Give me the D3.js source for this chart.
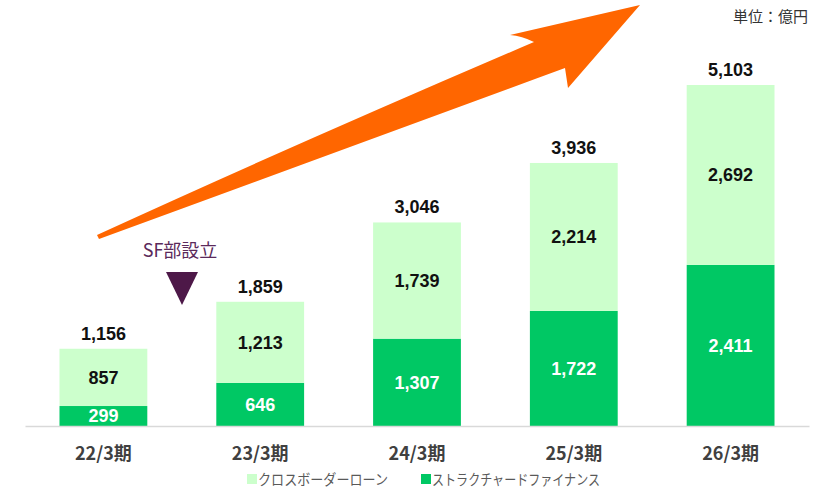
<!DOCTYPE html>
<html><head><meta charset="utf-8">
<script src="https://cdn.jsdelivr.net/npm/d3@7"></script>
<style>body{margin:0;background:#fff}svg{display:block}</style>
</head><body>
<svg id="c" width="834" height="496"></svg>
<script>
const categories = ["22/3期","23/3期","24/3期","25/3期","26/3期"];
const sfValues = [299, 646, 1307, 1722, 2411];
const cbValues = [857, 1213, 1739, 2214, 2692];
const totals = [1156, 1859, 3046, 3936, 5103];
const seriesNames = ["クロスボーダーローン","ストラクチャードファイナンス"];
const colors = {sf:"#00C864", cb:"#CCFFCC"};

const svg = d3.select("#c");
const jp = "'Noto Sans CJK JP','Noto Sans',sans-serif";
const num = "'Liberation Sans',Arial,sans-serif";

const x = d3.scaleBand().domain(categories).range([25, 809]).paddingInner(0.44).paddingOuter(0.22);
const y = d3.scaleLinear().domain([0, 5103]).range([426, 85]);

const data = categories.map((c,i)=>({cat:c, sf:sfValues[i], cb:cbValues[i], total:totals[i]}));
const stack = d3.stack().keys(["sf","cb"])(data);

// arrow
const arrow = d3.path();
arrow.moveTo(97,235);
arrow.quadraticCurveTo(300,142,534,42);
arrow.quadraticCurveTo(522,36,510,35);
arrow.lineTo(640,5);
arrow.lineTo(568,88);
arrow.lineTo(565,68);
arrow.quadraticCurveTo(320,158,99,239);
arrow.closePath();
svg.append("path").attr("d",arrow.toString()).attr("fill","#FF6600");

// bars
svg.append("g").selectAll("g").data(stack).join("g")
  .attr("fill",d=>colors[d.key])
  .selectAll("rect").data(d=>d).join("rect")
  .attr("x",d=>x(d.data.cat)).attr("width",x.bandwidth())
  .attr("y",d=>y(d[1])).attr("height",d=>y(d[0])-y(d[1]));

// axis
const axis = svg.append("g").attr("transform","translate(0,426)").call(d3.axisBottom(x).tickSize(0).tickPadding(21));
axis.select(".domain").attr("stroke","#D9D9D9").attr("stroke-width",1.5);
axis.selectAll("text").attr("font-family",jp).attr("font-weight","bold").attr("font-size",18).attr("fill","#404040");

// labels
const lab = svg.append("g").attr("text-anchor","middle").attr("font-family",num).attr("font-weight","bold").attr("font-size",18);
const fmt = d3.format(",");
data.forEach(d=>{
  const cx = x(d.cat)+x.bandwidth()/2;
  lab.append("text").attr("x",cx).attr("y",(y(0)+y(d.sf))/2).attr("dy","0.36em").attr("fill","#fff").text(fmt(d.sf));
  lab.append("text").attr("x",cx).attr("y",(y(d.sf)+y(d.total))/2).attr("dy","0.36em").attr("fill","#111").text(fmt(d.cb));
  lab.append("text").attr("x",cx).attr("y",y(d.total)-9).attr("fill","#111").text(fmt(d.total));
});

// SF marker
svg.append("text").attr("x",180).attr("y",257).attr("text-anchor","middle").attr("font-family",jp).attr("font-size",18).attr("fill","#5B2A5B").text("SF部設立");
svg.append("path").attr("d","M166,272L198,272L182,305Z").attr("fill","#4D1848");

// unit
svg.append("text").attr("x",808).attr("y",22).attr("text-anchor","end").attr("font-family",jp).attr("font-size",15).attr("fill","#333").text("単位：億円");

// legend
const leg = svg.append("g").attr("font-family",jp).attr("font-size",14.5).attr("fill","#595959");
const legItems = [{n:seriesNames[0],c:colors.cb,x:247,w:130},{n:seriesNames[1],c:colors.sf,x:421,w:168}];
legItems.forEach(l=>{
  leg.append("rect").attr("x",l.x).attr("y",474).attr("width",10).attr("height",10).attr("fill",l.c);
  leg.append("text").attr("x",l.x+11).attr("y",485).attr("textLength",l.w).attr("lengthAdjust","spacingAndGlyphs").text(l.n);
});
</script>
</body></html>
